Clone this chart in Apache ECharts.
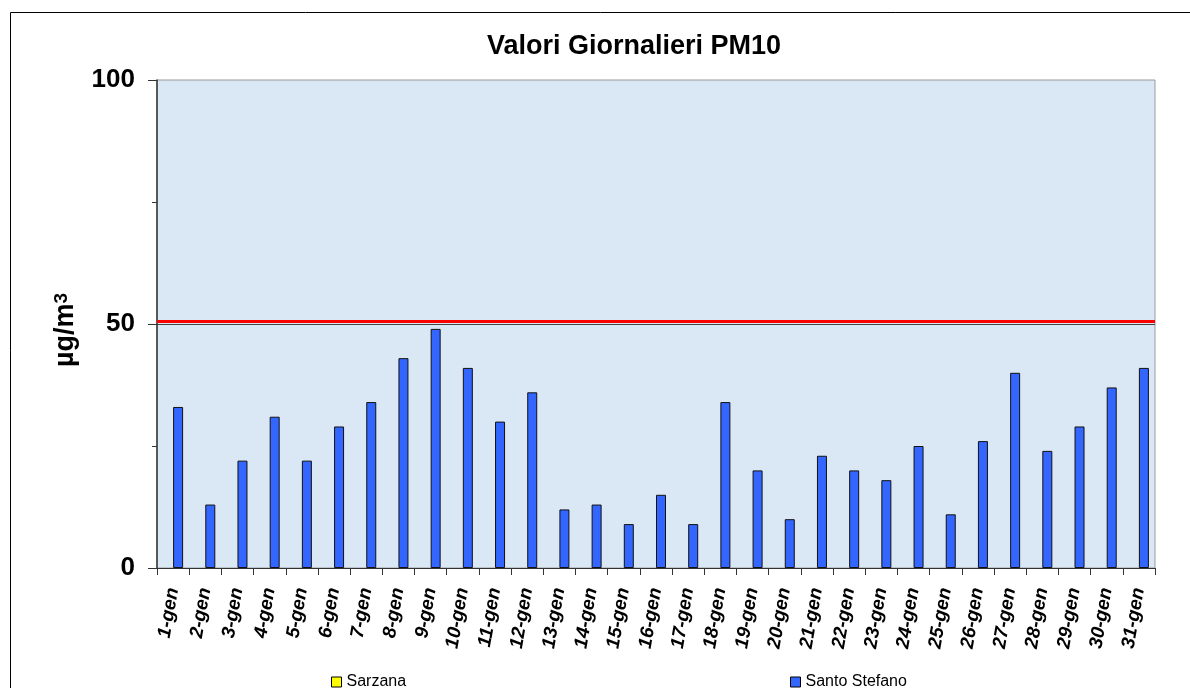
<!DOCTYPE html>
<html>
<head>
<meta charset="utf-8">
<script src="https://cdn.jsdelivr.net/npm/echarts@6/dist/echarts.min.js"></script>
<style>
html,body{margin:0;padding:0;background:#fff;}
#chart{width:1190px;height:688px;}
</style>
</head>
<body>
<div id="chart"></div>
<script>
const categories = ['1-gen','2-gen','3-gen','4-gen','5-gen','6-gen','7-gen','8-gen','9-gen','10-gen','11-gen','12-gen','13-gen','14-gen','15-gen','16-gen','17-gen','18-gen','19-gen','20-gen','21-gen','22-gen','23-gen','24-gen','25-gen','26-gen','27-gen','28-gen','29-gen','30-gen','31-gen'];
const sarzana = [];
const santoStefano = [33,13,22,31,22,29,34,43,49,41,30,36,12,13,9,15,9,34,20,10,23,20,18,25,11,26,40,24,29,37,41];
const limitValue = 50.6;
const yTickLabels = ['0','50','100'];

const FONT = "'Liberation Sans', Arial, Helvetica, sans-serif";
const chart = echarts.init(document.getElementById('chart'), null, {renderer: 'canvas'});

chart.setOption({
  animation: false,
  backgroundColor: '#ffffff',
  graphic: [{
    type: 'rect',
    shape: {x: 10.5, y: 12.5, width: 1200, height: 700},
    style: {fill: 'none', stroke: '#000', lineWidth: 1},
    silent: true, z: -10
  }],
  title: {
    text: 'Valori Giornalieri PM10',
    left: 482,
    top: 28,
    textStyle: {fontFamily: FONT, fontSize: 27, fontWeight: 'bold', color: '#000'}
  },
  legend: [{
    data: ['Sarzana'],
    left: 326, top: 669,
    itemWidth: 10, itemHeight: 10, itemGap: 5,
    icon: 'rect',
    itemStyle: {borderColor: '#000', borderWidth: 1},
    textStyle: {fontFamily: FONT, fontSize: 16, color: '#000'}
  }, {
    data: ['Santo Stefano'],
    left: 785, top: 669,
    itemWidth: 10, itemHeight: 10, itemGap: 5,
    icon: 'rect',
    itemStyle: {borderColor: '#000', borderWidth: 1},
    textStyle: {fontFamily: FONT, fontSize: 16, color: '#000'}
  }],
  grid: {
    left: 157, right: 35, top: 80, bottom: 120,
    show: true,
    backgroundColor: '#dae7f5',
    borderColor: '#9a9a9a',
    borderWidth: 1
  },
  xAxis: {
    type: 'category',
    data: categories,
    boundaryGap: true,
    axisLine: {lineStyle: {color: '#333', width: 1}},
    axisTick: {show: true, alignWithLabel: false, length: 7, lineStyle: {color: '#333'}},
    axisLabel: {
      interval: 0, rotate: 80, margin: 20,
      fontFamily: FONT, fontSize: 19, fontWeight: 'bold', fontStyle: 'italic', color: '#000'
    },
    splitLine: {show: false}
  },
  yAxis: {
    type: 'value',
    min: 0, max: 100, interval: 50,
    name: '{a|µg/m}{b|3}',
    nameLocation: 'middle',
    nameRotate: 90,
    nameGap: 78,
    nameTextStyle: {
      fontFamily: FONT, color: '#000',
      padding: [0, 12, 0, 0],
      rich: {
        a: {fontFamily: FONT, fontSize: 27, fontWeight: 'bold', color: '#000'},
        b: {fontFamily: FONT, fontSize: 19, fontWeight: 'bold', color: '#000', verticalAlign: 'top'}
      }
    },
    axisLine: {show: true, lineStyle: {color: '#333', width: 1.5}},
    axisTick: {show: true, length: 9, lineStyle: {color: '#333'}},
    minorTick: {show: true, splitNumber: 2, length: 5, lineStyle: {color: '#333'}},
    axisLabel: {
      margin: 22,
      fontFamily: FONT, fontSize: 26, fontWeight: 'bold', color: '#000',
      formatter: function (v) { const s = String(v); return yTickLabels.indexOf(s) >= 0 ? s : ''; }
    },
    splitLine: {show: true, lineStyle: {color: ['rgba(0,0,0,0)', '#444', 'rgba(0,0,0,0)'], width: 1}},
    minorSplitLine: {show: false}
  },
  series: [{
    name: 'Sarzana',
    type: 'bar',
    data: sarzana,
    barWidth: 10,
    barGap: '0%',
    itemStyle: {color: '#ffff00', borderColor: '#000', borderWidth: 1}
  }, {
    name: 'Santo Stefano',
    type: 'bar',
    data: santoStefano,
    barWidth: 10,
    barGap: '0%',
    itemStyle: {color: '#3366ff', borderColor: '#111', borderWidth: 1},
    markLine: {
      silent: true,
      symbol: ['none', 'none'],
      label: {show: false},
      lineStyle: {color: '#ff0000', width: 3, type: 'solid'},
      data: [{yAxis: limitValue}]
    }
  }]
});
</script>
</body>
</html>
